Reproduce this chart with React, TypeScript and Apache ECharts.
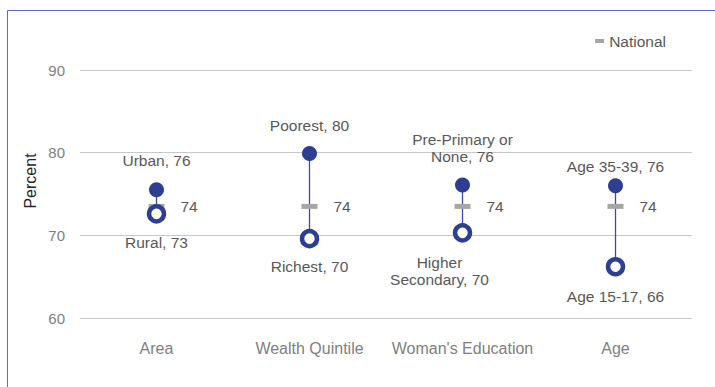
import React, { useEffect, useRef } from "react";
import * as echarts from "echarts";

// Subgroup dumbbells: higher and lower group values per dimension, plus the national figure
const categories = ["Area", "Wealth Quintile", "Woman's Education", "Age"];
const highNames = ["Urban", "Poorest", "Pre-Primary or\nNone", "Age 35-39"];
const highValues = [75.5, 79.9, 76.1, 76.0];
const lowNames = ["Rural", "Richest", "Higher\nSecondary", "Age 15-17"];
const lowValues = [72.6, 69.6, 70.3, 66.2];
const nationalValues = [73.5, 73.5, 73.5, 73.5];
const yTicks = [60, 70, 80, 90];

const DARK_BLUE = "#2e3f93";
const LABEL_GREY = "#595959";
const AXIS_GREY = "#7f7f7f";
const NATIONAL_GREY = "#a6a6a6";
const FONT = "'Liberation Sans', Arial, sans-serif";
const LABEL_SIZE = 15.5;

// Per-point label placement for the upper dots
const highLabelDist = [13, 12, 12, 3];
// Per-point label placement for the lower dots
const lowLabelDist = [10, 10, 11.5, 12];
const lowLabelOffset: [number, number][] = [[0, 0], [0, 0], [-23, 0], [0, 0]];

export default function App() {
  const ref = useRef<HTMLDivElement>(null);

  useEffect(() => {
    if (!ref.current) return;
    const chart = echarts.init(ref.current, undefined, { renderer: "svg" });

    const option: echarts.EChartsOption = {
      animation: false,
      backgroundColor: "#ffffff",
      textStyle: { fontFamily: FONT },
      grid: { left: 80, right: 23, top: 70, bottom: 69, containLabel: false },
      legend: {
        data: [{ name: "National", icon: "rect" }],
        right: 44,
        top: 28,
        itemWidth: 9,
        itemHeight: 4,
        itemGap: 6,
        textStyle: { color: LABEL_GREY, fontSize: LABEL_SIZE, fontFamily: FONT },
      },
      graphic: [
        {
          type: "rect",
          silent: true,
          shape: { x: 7.5, y: 10.5, width: 900, height: 600 },
          style: { fill: "none", stroke: "#5d6bbd", lineWidth: 1 },
        },
        {
          type: "text",
          x: 30,
          y: 181,
          rotation: Math.PI / 2,
          style: {
            text: "Percent",
            fill: "#262626",
            font: `16px ${FONT}`,
            align: "center",
            verticalAlign: "middle",
          },
        },
      ],
      xAxis: {
        type: "category",
        data: categories,
        axisLine: { show: false },
        axisTick: { show: false },
        axisLabel: {
          color: AXIS_GREY,
          fontSize: 16,
          margin: 22,
          interval: 0,
          fontFamily: FONT,
        },
      },
      yAxis: {
        type: "value",
        min: yTicks[0],
        max: yTicks[yTicks.length - 1],
        interval: 10,
        axisLine: { show: false },
        axisTick: { show: false },
        axisLabel: { color: AXIS_GREY, fontSize: 15, margin: 15, fontFamily: FONT },
        splitLine: { lineStyle: { color: "#c8c8c8", width: 1 } },
      },
      series: [
        {
          type: "custom",
          name: "range",
          silent: true,
          z: 1,
          data: categories.map((_, i) => [i, highValues[i], lowValues[i]]),
          renderItem: (params: any, api: any) => {
            const p1 = api.coord([api.value(0), api.value(1)]);
            const p2 = api.coord([api.value(0), api.value(2)]);
            return {
              type: "line",
              shape: { x1: p1[0], y1: p1[1], x2: p2[0], y2: p2[1] },
              style: { stroke: "#3c4ea3", lineWidth: 1.3 },
            };
          },
        } as any,
        {
          type: "scatter",
          name: "National",
          z: 2,
          symbol: "rect",
          symbolSize: [16, 5],
          itemStyle: { color: NATIONAL_GREY, opacity: 1 },
          data: nationalValues.map((v, i) => [i, v]),
          label: {
            show: true,
            position: "right",
            distance: 16,
            color: LABEL_GREY,
            fontSize: LABEL_SIZE,
            fontFamily: FONT,
            formatter: (p: any) => String(Math.round(p.value[1])),
          },
        },
        {
          type: "scatter",
          name: "High",
          z: 3,
          symbol: "circle",
          symbolSize: 15,
          itemStyle: { color: DARK_BLUE, opacity: 1 },
          data: highValues.map((v, i) => ({
            value: [i, v],
            label: { distance: highLabelDist[i] },
          })),
          label: {
            show: true,
            position: "top",
            color: LABEL_GREY,
            fontSize: LABEL_SIZE,
            lineHeight: 17,
            fontFamily: FONT,
            align: "center",
            formatter: (p: any) => `${highNames[p.dataIndex]}, ${Math.round(p.value[1])}`,
          },
        },
        {
          type: "scatter",
          name: "Low",
          z: 3,
          symbol: "circle",
          symbolSize: 15,
          itemStyle: { color: "#ffffff", borderColor: DARK_BLUE, borderWidth: 4.5, opacity: 1 },
          data: lowValues.map((v, i) => ({
            value: [i, v],
            label: { distance: lowLabelDist[i], offset: lowLabelOffset[i] },
          })),
          label: {
            show: true,
            position: "bottom",
            color: LABEL_GREY,
            fontSize: LABEL_SIZE,
            lineHeight: 17,
            fontFamily: FONT,
            align: "center",
            formatter: (p: any) => `${lowNames[p.dataIndex]}, ${Math.round(p.value[1])}`,
          },
        },
      ],
    };

    chart.setOption(option);
    return () => chart.dispose();
  }, []);

  return (
    <div
      ref={ref}
      style={{ position: "fixed", left: 0, top: 0, width: 715, height: 387 }}
    />
  );
}
